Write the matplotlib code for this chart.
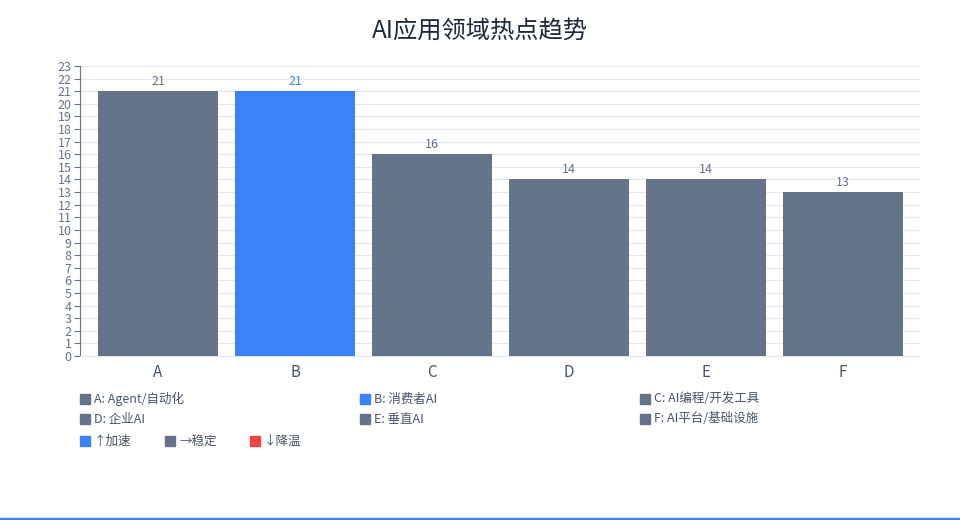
import matplotlib
matplotlib.use("Agg")
import matplotlib.pyplot as plt
from matplotlib.patches import Rectangle

plt.rcParams['font.family'] = ['Noto Sans CJK SC', 'DejaVu Sans']

categories = ["A", "B", "C", "D", "E", "F"]
values = [21, 21, 16, 14, 14, 13]
full_names = ["A: Agent/自动化", "B: 消费者AI", "C: AI编程/开发工具",
              "D: 企业AI", "E: 垂直AI", "F: AI平台/基础设施"]
trends = ["stable", "up", "stable", "stable", "stable", "stable"]
trend_labels = ["↑加速", "→稳定", "↓降温"]
title = "AI应用领域热点趋势"

GRAY = "#64748b"
BLUE = "#3b82f6"
RED = "#ef4444"
trend_color = {"up": BLUE, "stable": GRAY, "down": RED}
colors = [trend_color[t] for t in trends]

W, H = 960, 520
fig = plt.figure(figsize=(W / 100, H / 100), dpi=100)
ax = fig.add_axes([80 / W, 1 - 356 / H, 840 / W, 290 / H])

step = 137.0
x = range(len(categories))
ax.bar(x, values, width=120 / step, color=colors, zorder=3)
for i, v in enumerate(values):
    ax.text(i, v + 0.25, str(v), ha="center", va="bottom", fontsize=9,
            color=colors[i] if colors[i] == BLUE else GRAY)

ax.set_xlim(-(158 - 80) / step, 5 + (920 - 843) / step)
ax.set_ylim(0, 23)
ax.set_yticks(range(0, 24))
ax.set_xticks(list(x))
ax.set_xticklabels(categories, fontsize=11, color="#475569")
ax.tick_params(axis="y", labelsize=9, colors=GRAY, length=4, width=0.8, pad=2)
ax.tick_params(axis="x", length=0, pad=6)
ax.grid(axis="y", color="#e2e8f0", linewidth=0.8, zorder=0)
for s in ["top", "right"]:
    ax.spines[s].set_visible(False)
ax.spines["left"].set_color(GRAY)
ax.spines["bottom"].set_color("#e2e8f0")

fig.text(0.5, 1 - 31 / H, title, ha="center", va="center", fontsize=17.5, color="#1e293b")

def legend_item(px, py, color, label):
    fig.patches.append(Rectangle((px / W, 1 - (py + 5) / H), 10 / W, 10 / H,
                                 transform=fig.transFigure, color=color))
    fig.text((px + 14) / W, 1 - py / H, label, ha="left", va="center",
             fontsize=9, color="#475569")

cols = [80, 360, 640]
rows = [399, 419]
for i, name in enumerate(full_names):
    legend_item(cols[i % 3], rows[i // 3], colors[i], name)

for px, c, lab in zip([80, 165, 250], [BLUE, GRAY, RED], trend_labels):
    legend_item(px, 441, c, lab)

fig.patches.append(Rectangle((0, 0), 1, 2 / H, transform=fig.transFigure, color=BLUE))

fig.savefig("out.png", dpi=100)
